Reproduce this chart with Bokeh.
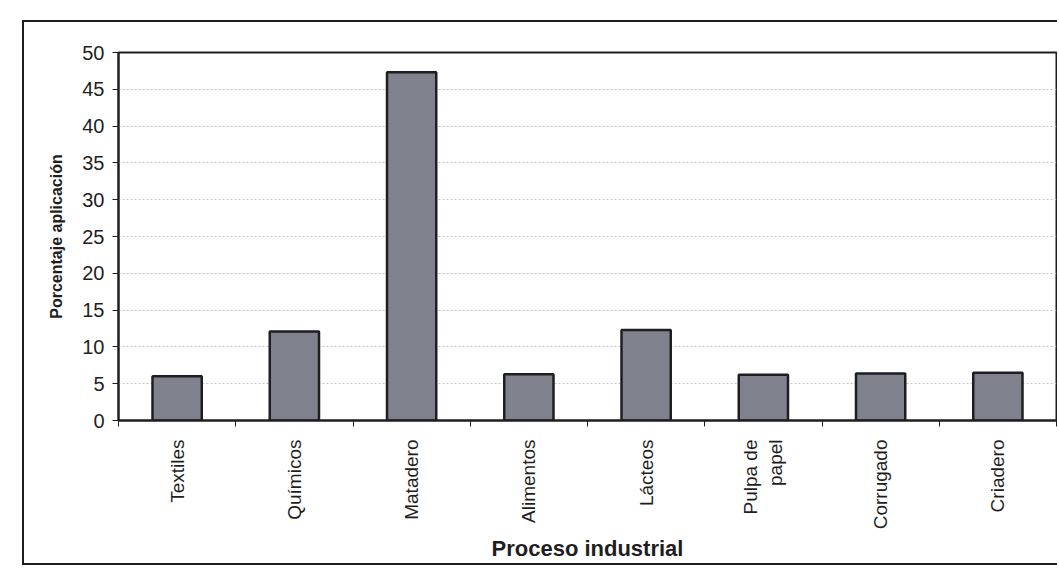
from bokeh.plotting import figure
from bokeh.models import ColumnDataSource, FixedTicker, Range1d
from bokeh.embed import file_html
from bokeh.resources import INLINE

# Application percentage by industrial process
categories = ["Textiles", "Químicos", "Matadero", "Alimentos", "Lácteos",
              "Pulpa de\npapel", "Corrugado", "Criadero"]
values = [6.0, 12.1, 47.3, 6.3, 12.3, 6.2, 6.4, 6.5]
y_ticks = [0, 5, 10, 15, 20, 25, 30, 35, 40, 45, 50]

centers = [i + 0.5 for i in range(len(categories))]
bounds = list(range(len(categories) + 1))

src = ColumnDataSource(data=dict(x=centers, top=values))

FONT = "Liberation Sans"
INK = "#1e1e22"

p = figure(width=1035, height=545, output_backend="svg", toolbar_location=None,
           x_range=Range1d(0, len(categories)), y_range=Range1d(0, 50),
           min_border_left=94, min_border_top=30, min_border_right=3,
           min_border_bottom=147)
p.margin = (20, 0, 0, 22)
p.styles = {"border-left": f"2px solid {INK}", "border-top": f"2px solid {INK}",
            "border-bottom": f"2px solid {INK}"}

p.vbar(x="x", top="top", width=0.42, bottom=0, source=src,
       fill_color="#7f818c", line_color=INK, line_width=2.5)

p.outline_line_color = INK
p.outline_line_width = 2
p.background_fill_color = "white"
p.border_fill_color = "white"

# y axis
p.yaxis.ticker = FixedTicker(ticks=y_ticks)
p.yaxis.axis_label = "Porcentaje aplicación"
p.yaxis.axis_label_text_font = FONT
p.yaxis.axis_label_text_font_style = "bold"
p.yaxis.axis_label_text_font_size = "16px"
p.yaxis.axis_label_text_color = INK
p.yaxis.axis_label_standoff = 14
p.yaxis.major_label_text_font = FONT
p.yaxis.major_label_text_font_size = "20px"
p.yaxis.major_label_text_color = INK
p.yaxis.axis_line_color = INK
p.yaxis.axis_line_width = 2
p.yaxis.major_tick_in = 0
p.yaxis.major_tick_out = 6
p.yaxis.major_tick_line_color = INK
p.yaxis.minor_tick_line_color = None
p.yaxis.major_label_standoff = 8

# x axis: labels at bar centres, ticks at category boundaries
p.xaxis.ticker = FixedTicker(ticks=centers, minor_ticks=bounds)
p.xaxis.major_label_overrides = {c: lab for c, lab in zip(centers, categories)}
p.xaxis.major_label_orientation = 1.5707963
p.xaxis.major_label_text_font = FONT
p.xaxis.major_label_text_font_size = "19px"
p.xaxis.major_label_text_color = INK
p.xaxis.major_label_standoff = 13
p.xaxis.major_tick_in = 0
p.xaxis.major_tick_out = 0
p.xaxis.minor_tick_in = 0
p.xaxis.minor_tick_out = 6
p.xaxis.minor_tick_line_color = INK
p.xaxis.axis_line_color = INK
p.xaxis.axis_line_width = 2
p.xaxis.axis_label = "Proceso industrial"
p.xaxis.axis_label_text_font = FONT
p.xaxis.axis_label_text_font_style = "bold"
p.xaxis.axis_label_text_font_size = "22px"
p.xaxis.axis_label_text_color = INK
p.xaxis.axis_label_standoff = 4

p.xgrid.grid_line_color = None
p.ygrid.grid_line_color = "#c0c4cc"
p.ygrid.grid_line_dash = "2 2"
p.ygrid.grid_line_width = 1

open("out.html", "w").write(file_html(p, INLINE))
